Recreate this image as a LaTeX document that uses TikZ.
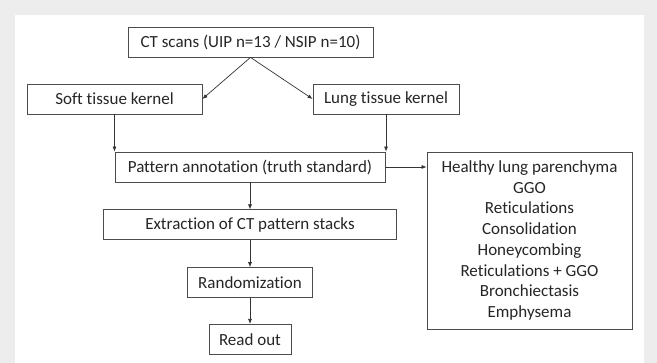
\documentclass[tikz,border=0pt]{standalone}
\usepackage{fontspec}
\setmainfont[Ligatures=NoCommon]{Carlito}
\usepackage{tikz}
\usetikzlibrary{positioning,arrows.meta}

\begin{document}
\begin{tikzpicture}[
    x=1pt, y=-1pt,
    node distance=27pt,
    every node/.style={font=\fontsize{17}{20.7}\selectfont, text=black!85},
    box/.style={draw=black!70, line width=0.8pt, align=center, minimum height=30pt, inner sep=2pt, fill=white},
    arrow/.style={-{Latex[length=5pt,width=4pt]}, line width=0.7pt, draw=black!80}
  ]

  % --- background panel ---
  \fill[black!7] (0,0) rectangle (657,363);
  \fill[white] (15,15) rectangle (644,363);
  \useasboundingbox (0,0) rectangle (657,363);

  % --- Scans and kernels ---
  \node[box, minimum width=245pt] (ct) at (250.5,42) {CT scans (UIP n=13 / NSIP n=10)};
  \node[box, minimum width=175pt] (soft) at (114.5,99) {Soft tissue kernel};
  \node[box, minimum width=146pt] (lung) at (386,99) {Lung tissue kernel};

  % --- Processing chain ---
  \node[box, minimum width=270pt] (pat) at (250,167) {Pattern annotation (truth standard)};
  \node[box, minimum width=293pt, below=of pat] (ext) {Extraction of CT pattern stacks};
  \node[box, minimum width=125pt, below=of ext] (rand) {Randomization};
  \node[box, minimum width=82pt, below=26pt of rand] (readout) {Read out};

  % --- Pattern classes ---
  \node[box, minimum width=205pt, minimum height=177pt] (classes) at (529.5,240.5)
    {Healthy lung parenchyma\\GGO\\Reticulations\\Consolidation\\Honeycombing\\Reticulations + GGO\\Bronchiectasis\\Emphysema};

  % --- Arrows ---
  \draw[arrow] (ct.south) -- (soft.east);
  \draw[arrow] (ct.south) -- (lung.west);
  \draw[arrow] (soft.south) -- (soft.south |- pat.north);
  \draw[arrow] (lung.south) -- (lung.south |- pat.north);
  \draw[arrow] (pat) -- (ext);
  \draw[arrow] (ext) -- (rand);
  \draw[arrow] (rand) -- (readout);
  \draw[arrow] (pat.east) -- (pat.east -| classes.west);

\end{tikzpicture}
\end{document}
